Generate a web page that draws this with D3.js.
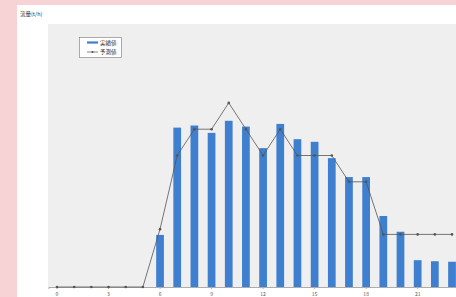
<!DOCTYPE html>
<html><head><meta charset="utf-8">
<script src="https://cdn.jsdelivr.net/npm/d3@7"></script>
<style>html,body{margin:0;padding:0;background:#f8d3d5;}svg{display:block;}</style>
</head><body>
<svg id="c" width="456" height="297"></svg>
<script>
const hours = d3.range(0, 24).map(String);
const actual = [0,0,0,0,0,0,9.9,30.3,30.7,29.3,31.6,30.5,26.4,31.0,28.1,27.6,24.5,20.9,20.9,13.5,10.5,5.1,4.9,4.8];
const predicted = [0,0,0,0,0,0,11,25,30,30,35,30,25,30,25,25,25,20,20,10,10,10,10,10];
const tickLabels = ["0","3","6","9","12","15","18","21"];
const yMax = 50;
const titleText = "流量(t/h)";
const legendLabels = ["実績値","予測値"];

const svg = d3.select("#c");
svg.append("rect").attr("x",17).attr("y",5).attr("width",439).attr("height",292).attr("fill","#ffffff");
svg.append("rect").attr("x",48).attr("y",24).attr("width",408).attr("height",264).attr("fill","#efefef");

const x = d3.scaleBand().domain(hours).range([48.4, 460.6]).paddingInner(0.55).paddingOuter(0.275);
const y = d3.scaleLinear().domain([0, yMax]).range([287, 24]);

svg.append("text").attr("x",20).attr("y",16).attr("font-family","Noto Sans CJK JP").attr("font-size",5.5).attr("fill","#333").text(titleText);

// bars
svg.append("g").selectAll("rect").data(actual.map((v,i)=>({h:hours[i],v}))).join("rect")
  .attr("x", d=>x(d.h)).attr("width", x.bandwidth())
  .attr("y", d=>y(d.v)).attr("height", d=>y(0)-y(d.v)).attr("fill","#3f7fcf");

// axis
const ax = d3.axisBottom(x).tickValues(tickLabels).tickSize(2).tickPadding(3);
const g = svg.append("g").attr("transform",`translate(0,${y(0)})`).call(ax);
g.select(".domain").attr("stroke","#9a9a9a").attr("stroke-width",0.8);
g.selectAll(".tick line").attr("stroke","#d9a08a");
g.selectAll("text").attr("font-family","Noto Sans CJK JP").attr("font-size",5).attr("fill","#555");

// line
const pts = predicted.map((v,i)=>({h:hours[i],v}));
const line = d3.line().x(d=>x(d.h)+x.bandwidth()/2).y(d=>y(d.v));
svg.append("path").datum(pts).attr("d",line).attr("fill","none").attr("stroke","#555").attr("stroke-width",0.8);
svg.append("g").selectAll("circle").data(pts).join("circle")
  .attr("cx",d=>x(d.h)+x.bandwidth()/2).attr("cy",d=>y(d.v)).attr("r",1.3).attr("fill","#555");

// legend
const lg = svg.append("g");
lg.append("rect").attr("x",79.5).attr("y",37.5).attr("width",42).attr("height",20).attr("fill","#fff").attr("stroke","#777").attr("stroke-width",0.6);
lg.append("line").attr("x1",87).attr("x2",98).attr("y1",42.5).attr("y2",42.5).attr("stroke","#3f7fcf").attr("stroke-width",2.2);
lg.append("text").attr("x",100).attr("y",44.5).attr("font-family","Noto Sans CJK JP").attr("font-size",5.5).attr("fill","#333").text(legendLabels[0]);
lg.append("line").attr("x1",87).attr("x2",98).attr("y1",52).attr("y2",52).attr("stroke","#555").attr("stroke-width",0.7);
lg.append("circle").attr("cx",92.5).attr("cy",52).attr("r",1.1).attr("fill","#555");
lg.append("text").attr("x",100).attr("y",54).attr("font-family","Noto Sans CJK JP").attr("font-size",5.5).attr("fill","#333").text(legendLabels[1]);
</script>
</body></html>
